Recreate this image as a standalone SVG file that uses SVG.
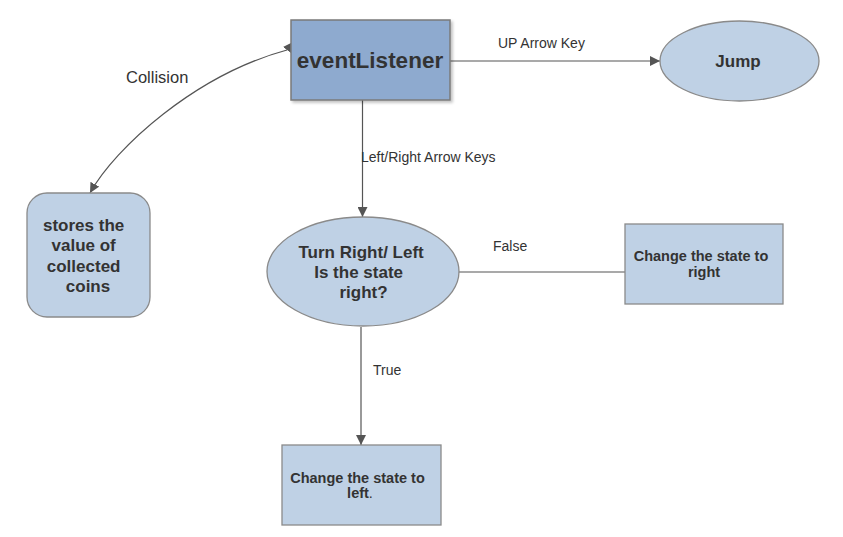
<svg xmlns="http://www.w3.org/2000/svg" width="843" height="537" viewBox="0 0 843 537">
<style>
  .node { fill: #bfd1e5; stroke: #8a8a8a; stroke-width: 1.3; }
  .main { fill: #8eaacf; stroke: #7a7a7a; stroke-width: 1.5; }
  .edge { fill: none; stroke: #555555; stroke-width: 1.2; }
  .t { font-family: "Liberation Sans", Arial, sans-serif; fill: #333333; text-anchor: middle; }
  .b { font-weight: bold; }
  .lbl { font-family: "Liberation Sans", Arial, sans-serif; fill: #333333; font-size: 14px; }
</style>
<defs>
  <marker id="arr" viewBox="0 0 10 10" refX="10" refY="5" markerWidth="10" markerHeight="10" markerUnits="userSpaceOnUse" orient="auto-start-reverse">
    <path d="M0,0 L10,5 L0,10 Z" fill="#555555"/>
  </marker>
  <filter id="sh" x="-10%" y="-10%" width="130%" height="130%">
    <feGaussianBlur in="SourceAlpha" stdDeviation="1.5"/>
    <feOffset dx="2" dy="2" result="o"/>
    <feComponentTransfer><feFuncA type="linear" slope="0.25"/></feComponentTransfer>
    <feMerge><feMergeNode/><feMergeNode in="SourceGraphic"/></feMerge>
  </filter>
</defs>
<rect width="843" height="537" fill="#ffffff"/>

<g id="connectors">
  <path class="edge" d="M450,61 L660,61" marker-end="url(#arr)"/>
  <path class="edge" d="M362.5,100 L362.5,217" marker-end="url(#arr)"/>
  <path class="edge" d="M458,272 L625,272"/>
  <path class="edge" d="M361,327 L361,445" marker-end="url(#arr)"/>
  <path class="edge" d="M90,193 C115,148 195,75 287,50 L293,42" marker-start="url(#arr)" marker-end="url(#arr)"/>
  <text class="lbl" x="498" y="48">UP Arrow Key</text>
  <text class="lbl" x="361" y="162">Left/Right Arrow Keys</text>
  <text class="lbl" x="493" y="251">False</text>
  <text class="lbl" x="373" y="375">True</text>
  <text class="lbl" x="126" y="83" style="font-size:16.5px">Collision</text>
</g>

<g id="eventListener">
  <rect class="main" x="291" y="20" width="159" height="80" filter="url(#sh)"/>
  <text class="t b" x="370" y="68" font-size="22.5">eventListener</text>
</g>

<g id="jump">
  <ellipse class="node" cx="739.5" cy="61" rx="79.5" ry="40"/>
  <text class="t b" x="738" y="67" font-size="17">Jump</text>
</g>

<g id="coins">
  <rect class="node" x="27" y="193" width="123" height="124" rx="20" ry="20"/>
  <text class="t b" font-size="17">
    <tspan x="86" y="231">stores the</tspan>
    <tspan x="86" y="251">value of</tspan>
    <tspan x="86" y="272">collected</tspan>
    <tspan x="88" y="292">coins</tspan>
  </text>
</g>

<g id="turn">
  <ellipse class="node" cx="363" cy="271.5" rx="96" ry="54.5"/>
  <text class="t b" font-size="17">
    <tspan x="363.5" y="258">Turn Right/ Left</tspan>
    <tspan x="361" y="278">Is the state</tspan>
    <tspan x="363.5" y="298">right?</tspan>
  </text>
</g>

<g id="right">
  <rect class="node" x="625" y="224" width="158" height="80"/>
  <text class="t b" font-size="14.5">
    <tspan x="703" y="261">Change the state to</tspan>
    <tspan x="704" y="277">right</tspan>
  </text>
</g>

<g id="left">
  <rect class="node" x="282" y="445" width="159" height="80"/>
  <text class="t b" font-size="14.5">
    <tspan x="359.5" y="483">Change the state to</tspan>
    <tspan x="360" y="498">left<tspan font-weight="normal">.</tspan></tspan>
  </text>
</g>
</svg>
